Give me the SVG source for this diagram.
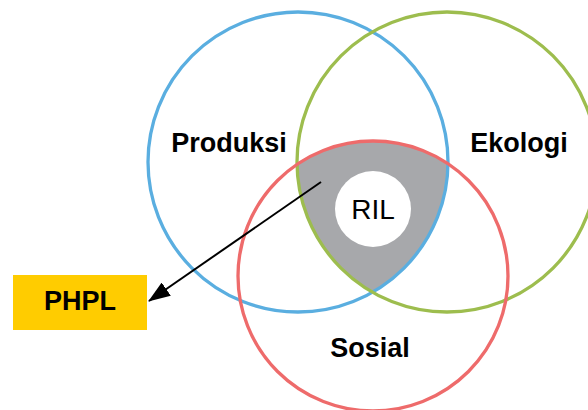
<svg xmlns="http://www.w3.org/2000/svg" width="588" height="410" viewBox="0 0 588 410">
  <style>
    .ring { fill: none; stroke-width: 3.3; }
    .label { font-family: "Liberation Sans", Arial, sans-serif; font-weight: bold; font-size: 27px; fill: #000; text-anchor: middle; }
    .center { font-family: "Liberation Sans", Arial, sans-serif; font-size: 28px; fill: #000; text-anchor: middle; }
  </style>
  <defs>
    <clipPath id="clipBlue"><circle cx="298" cy="162" r="150"/></clipPath>
    <clipPath id="clipGreen"><circle cx="447" cy="162" r="150"/></clipPath>
    <marker id="arrowHead" viewBox="0 0 22 16" refX="21" refY="8" markerWidth="22" markerHeight="16" markerUnits="userSpaceOnUse" orient="auto">
      <path d="M0,0 L22,8 L0,16 Z" fill="#000"/>
    </marker>
  </defs>
  <rect width="588" height="410" fill="#fff"/>

  <!-- shared core of all three circles -->
  <g id="core">
    <g clip-path="url(#clipBlue)">
      <g clip-path="url(#clipGreen)">
        <circle cx="373" cy="276" r="135" fill="#a7a8ab"/>
      </g>
    </g>
  </g>

  <g id="produksi">
    <circle class="ring" cx="298" cy="162" r="150" stroke="#5aaee0"/>
    <text class="label" x="229" y="152">Produksi</text>
  </g>
  <g id="ekologi">
    <circle class="ring" cx="447" cy="162" r="150" stroke="#9dbd4e"/>
    <text class="label" x="519" y="152">Ekologi</text>
  </g>
  <g id="sosial">
    <circle class="ring" cx="373" cy="276" r="135" stroke="#ee6b6b"/>
    <text class="label" x="370" y="357">Sosial</text>
  </g>

  <g id="ril">
    <circle cx="373" cy="209" r="38" fill="#fff"/>
    <text class="center" x="373" y="219">RIL</text>
  </g>

  <g id="phpl">
    <rect x="13" y="275" width="134" height="55" fill="#ffcc00"/>
    <text class="label" x="80" y="310">PHPL</text>
  </g>

  <g id="connectors">
    <line x1="321" y1="182" x2="149" y2="301" stroke="#000" stroke-width="2" marker-end="url(#arrowHead)"/>
  </g>
</svg>
